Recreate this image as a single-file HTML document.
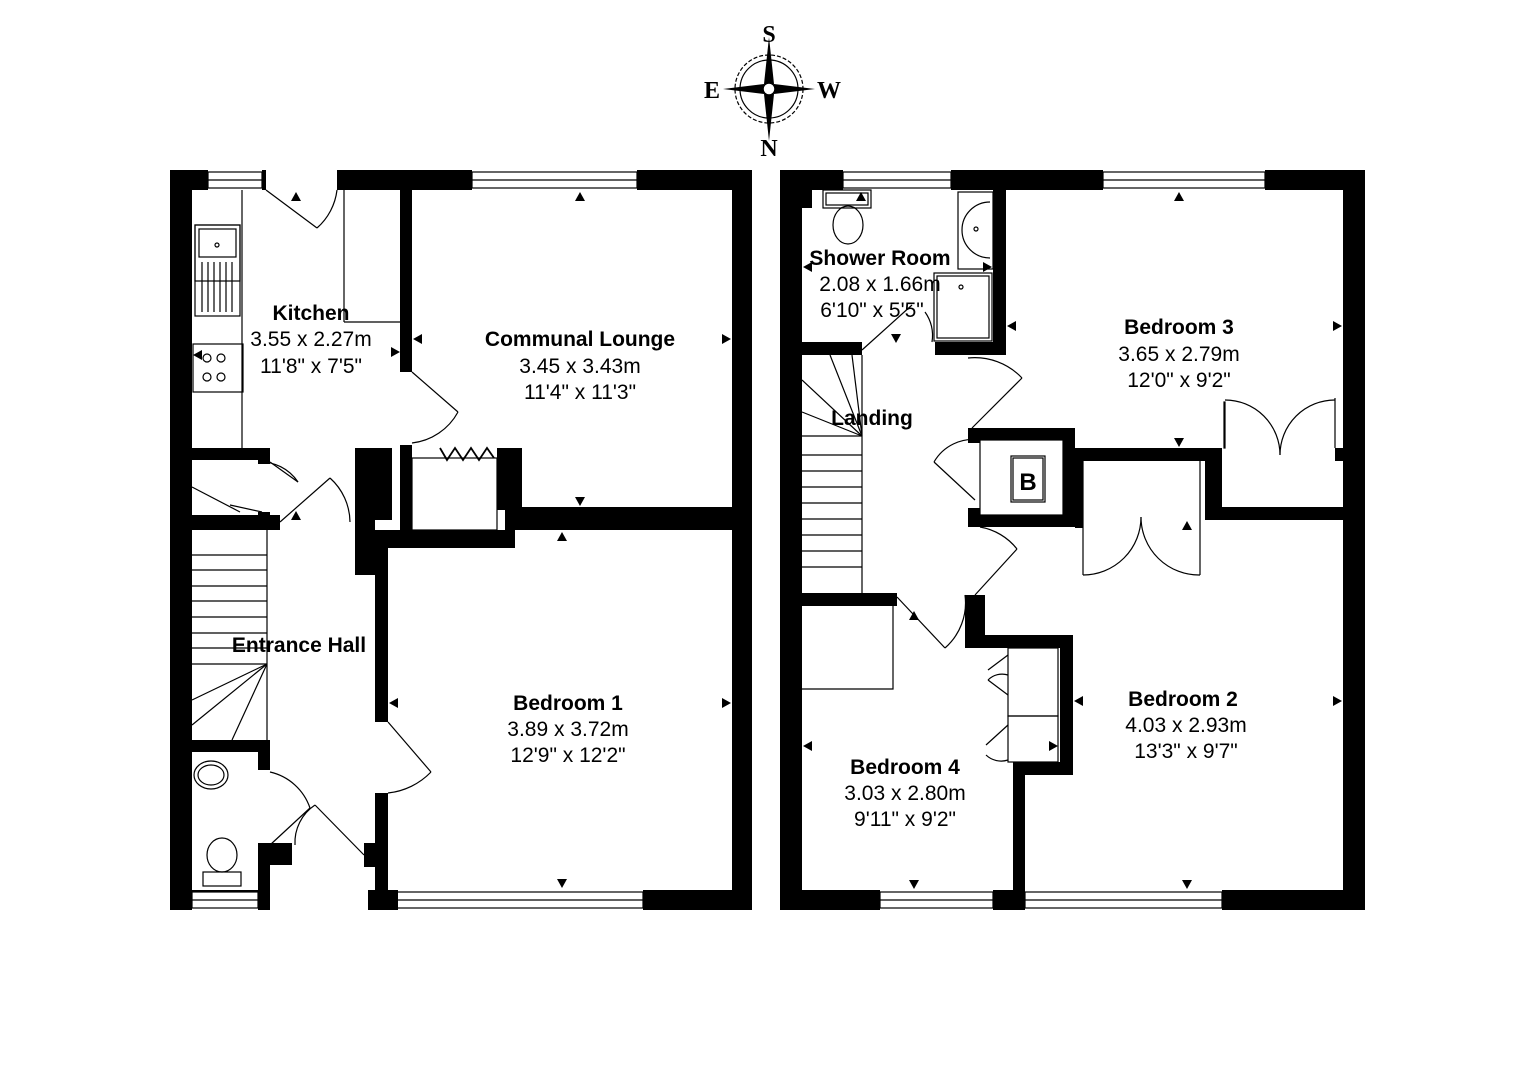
<!DOCTYPE html>
<html><head><meta charset="utf-8"><style>
html,body{margin:0;padding:0;background:#fff}
svg{display:block}
.t{font-family:"Liberation Sans",sans-serif;font-size:21px;fill:#000;text-anchor:middle}
.b{font-weight:bold}
</style></head><body>
<svg width="1534" height="1080" viewBox="0 0 1534 1080" xmlns="http://www.w3.org/2000/svg">
<rect width="1534" height="1080" fill="#fff"/>
<g transform="translate(769,89)">
<circle r="34" fill="none" stroke="#000" stroke-width="1.2" stroke-dasharray="4,2"/>
<circle r="29" fill="none" stroke="#000" stroke-width="1.2"/>
<polygon points="0,-52 5,-5 0,0 -5,-5" fill="#000"/>
<polygon points="0,52 5,5 0,0 -5,5" fill="#000"/>
<polygon points="-46,0 -5,-5 0,0 -5,5" fill="#000"/>
<polygon points="46,0 5,-5 0,0 5,5" fill="#000"/>
<circle r="6" fill="#fff" stroke="#000" stroke-width="1.5"/>
</g>
<text x="769" y="42" font-family="Liberation Serif,serif" font-weight="bold" font-size="24" text-anchor="middle">S</text>
<text x="769" y="156" font-family="Liberation Serif,serif" font-weight="bold" font-size="24" text-anchor="middle">N</text>
<text x="712" y="98" font-family="Liberation Serif,serif" font-weight="bold" font-size="24" text-anchor="middle">E</text>
<text x="829" y="98" font-family="Liberation Serif,serif" font-weight="bold" font-size="24" text-anchor="middle">W</text>

<g fill="#000">
<rect x="170" y="170" width="22" height="740"/>
<rect x="170" y="170" width="38" height="20"/>
<rect x="262" y="170" width="4" height="20"/>
<rect x="337" y="170" width="135" height="20"/>
<rect x="637" y="170" width="115" height="20"/>
<rect x="732" y="170" width="20" height="740"/>
<rect x="258" y="890" width="12" height="20"/>
<rect x="368" y="890" width="30" height="20"/>
<rect x="643" y="890" width="109" height="20"/>
<rect x="192" y="890" width="66" height="2"/>
<rect x="400" y="190" width="12" height="182"/>
<rect x="400" y="445" width="12" height="85"/>
<rect x="497" y="448" width="25" height="62"/>
<rect x="388" y="530" width="127" height="18"/>
<rect x="505" y="507" width="10" height="40"/>
<rect x="515" y="507" width="237" height="23"/>
<rect x="355" y="448" width="37" height="72"/>
<rect x="355" y="520" width="20" height="55"/>
<rect x="375" y="530" width="13" height="192"/>
<rect x="375" y="793" width="13" height="117"/>
<rect x="364" y="843" width="24" height="24"/>
<rect x="192" y="448" width="78" height="12"/>
<rect x="258" y="448" width="12" height="16"/>
<rect x="192" y="515" width="88" height="15"/>
<rect x="258" y="512" width="12" height="6"/>
<rect x="192" y="740" width="78" height="12"/>
<rect x="258" y="740" width="12" height="30"/>
<rect x="258" y="843" width="12" height="67"/>
<rect x="258" y="843" width="34" height="22"/>

<rect x="780" y="170" width="22" height="740"/>
<rect x="780" y="170" width="63" height="20"/>
<rect x="951" y="170" width="152" height="20"/>
<rect x="1265" y="170" width="100" height="20"/>
<rect x="1343" y="170" width="22" height="740"/>
<rect x="780" y="890" width="100" height="20"/>
<rect x="993" y="890" width="32" height="20"/>
<rect x="1222" y="890" width="143" height="20"/>
<rect x="802" y="190" width="10" height="18"/>
<rect x="993" y="190" width="13" height="165"/>
<rect x="935" y="342" width="71" height="13"/>
<rect x="802" y="342" width="60" height="13"/>
<rect x="802" y="593" width="95" height="13"/>
<rect x="968" y="428" width="107" height="12"/>
<rect x="968" y="428" width="12" height="15"/>
<rect x="968" y="508" width="12" height="19"/>
<rect x="968" y="515" width="113" height="12"/>
<rect x="1063" y="428" width="12" height="99"/>
<rect x="1075" y="448" width="147" height="13"/>
<rect x="1075" y="448" width="8" height="80"/>
<rect x="1205" y="448" width="17" height="72"/>
<rect x="1205" y="507" width="138" height="13"/>
<rect x="1335" y="448" width="8" height="13"/>
<rect x="965" y="595" width="20" height="50"/>
<rect x="965" y="635" width="108" height="13"/>
<rect x="1060" y="635" width="13" height="140"/>
<rect x="1020" y="762" width="53" height="13"/>
<rect x="1013" y="762" width="12" height="128"/>
</g>

<g fill="none" stroke="#000" stroke-width="1.2">
<rect x="208" y="172" width="54" height="16"/><line x1="208" y1="180" x2="262" y2="180"/>
<rect x="472" y="172" width="165" height="16"/><line x1="472" y1="180" x2="637" y2="180"/>
<rect x="397" y="892" width="246" height="16"/><line x1="397" y1="900" x2="643" y2="900"/>
<rect x="192" y="892" width="66" height="16"/><line x1="192" y1="900" x2="258" y2="900"/>
<rect x="843" y="172" width="108" height="16"/><line x1="843" y1="180" x2="951" y2="180"/>
<rect x="1103" y="172" width="162" height="16"/><line x1="1103" y1="180" x2="1265" y2="180"/>
<rect x="880" y="892" width="113" height="16"/><line x1="880" y1="900" x2="993" y2="900"/>
<rect x="1025" y="892" width="197" height="16"/><line x1="1025" y1="900" x2="1222" y2="900"/>
<line x1="242" y1="190" x2="242" y2="448"/>
<rect x="195" y="225" width="45" height="56"/>
<rect x="199" y="229" width="37" height="28"/>
<circle cx="217" cy="245" r="2"/>
<line x1="202" y1="262" x2="202" y2="312"/><line x1="208" y1="262" x2="208" y2="312"/><line x1="214" y1="262" x2="214" y2="312"/><line x1="220" y1="262" x2="220" y2="312"/><line x1="226" y1="262" x2="226" y2="312"/><line x1="232" y1="262" x2="232" y2="312"/>
<rect x="195" y="225" width="45" height="91"/>
<rect x="193" y="344" width="50" height="48"/>
<circle cx="207" cy="358" r="4"/><circle cx="221" cy="358" r="4"/><circle cx="207" cy="377" r="4"/><circle cx="221" cy="377" r="4"/>
<line x1="344" y1="190" x2="344" y2="322"/><line x1="344" y1="322" x2="400" y2="322"/>
<line x1="266" y1="190" x2="317" y2="228"/><path d="M317,228 A60,60 0 0 0 337,190"/>
<line x1="412" y1="372" x2="458" y2="412"/><path d="M458,412 A60,60 0 0 1 412,443"/>
<polyline points="440,448 447,460 455,448 463,460 471,448 479,460 487,448 494,458" stroke-width="1.8"/>
<rect x="412" y="458" width="85" height="72"/>
<line x1="270" y1="462" x2="298" y2="482"/><path d="M258,462 A45,45 0 0 1 298,482"/>
<line x1="262" y1="512" x2="230" y2="505"/><line x1="192" y1="487" x2="240" y2="512"/>
<line x1="280" y1="522" x2="330" y2="478"/><path d="M330,478 A60,60 0 0 1 350,522"/>
<line x1="388" y1="722" x2="431" y2="772"/><path d="M431,772 A70,70 0 0 1 388,793"/>
<line x1="315" y1="805" x2="364" y2="855"/><path d="M315,805 A45,45 0 0 0 295,845"/>
<line x1="270" y1="845" x2="310" y2="808"/><path d="M310,808 A55,55 0 0 0 270,772"/>
<line x1="267" y1="530" x2="267" y2="740"/>
<line x1="192" y1="555" x2="267" y2="555"/><line x1="192" y1="570" x2="267" y2="570"/><line x1="192" y1="586" x2="267" y2="586"/><line x1="192" y1="601" x2="267" y2="601"/><line x1="192" y1="617" x2="267" y2="617"/><line x1="192" y1="633" x2="267" y2="633"/><line x1="192" y1="648" x2="267" y2="648"/><line x1="192" y1="664" x2="267" y2="664"/>
<line x1="192" y1="700" x2="267" y2="664"/><line x1="192" y1="725" x2="267" y2="664"/><line x1="232" y1="740" x2="267" y2="664"/>
<ellipse cx="211" cy="775" rx="17" ry="14"/><ellipse cx="211" cy="775" rx="13" ry="10"/>
<ellipse cx="222" cy="855" rx="15" ry="17"/><rect x="203" y="872" width="38" height="14"/>
<rect x="823" y="190" width="48" height="18"/><rect x="826" y="193" width="42" height="12"/>
<ellipse cx="848" cy="225" rx="15" ry="19"/>
<rect x="958" y="192" width="35" height="77"/>
<path d="M990,202 A27,27 0 0 0 990,258"/><circle cx="976" cy="229" r="2"/>
<rect x="934" y="273" width="58" height="68"/><rect x="937" y="276" width="52" height="62"/>
<circle cx="961" cy="287" r="2"/>
<line x1="862" y1="350" x2="912" y2="305"/><path d="M932,342 A40,40 0 0 0 925,312"/>
<line x1="862" y1="355" x2="862" y2="593"/>
<line x1="802" y1="380" x2="862" y2="436"/><line x1="830" y1="355" x2="862" y2="436"/><line x1="852" y1="355" x2="862" y2="436"/><line x1="802" y1="412" x2="862" y2="436"/>
<line x1="802" y1="436" x2="862" y2="436"/><line x1="802" y1="455" x2="862" y2="455"/><line x1="802" y1="471" x2="862" y2="471"/><line x1="802" y1="487" x2="862" y2="487"/><line x1="802" y1="503" x2="862" y2="503"/><line x1="802" y1="519" x2="862" y2="519"/><line x1="802" y1="535" x2="862" y2="535"/><line x1="802" y1="551" x2="862" y2="551"/><line x1="802" y1="567" x2="862" y2="567"/>
<polyline points="802,689 893,689 893,606"/>
<line x1="972" y1="428" x2="1022" y2="378"/><path d="M1022,378 A65,65 0 0 0 968,358"/>
<line x1="934" y1="462" x2="975" y2="500"/><path d="M934,462 A45,45 0 0 1 980,440"/>
<line x1="975" y1="595" x2="1017" y2="549"/><path d="M1017,549 A60,60 0 0 0 980,527"/>
<line x1="897" y1="597" x2="945" y2="648"/><path d="M945,648 A60,60 0 0 0 965,595"/>
<rect x="1224" y="402" width="1" height="46"/><line x1="1335" y1="398" x2="1335" y2="448"/>
<path d="M1225,400 A55,55 0 0 1 1280,455"/><path d="M1335,400 A55,55 0 0 0 1280,455"/>
<line x1="1083" y1="461" x2="1083" y2="575"/><line x1="1200" y1="461" x2="1200" y2="575"/>
<path d="M1083,575 A58,58 0 0 0 1141,517"/><path d="M1200,575 A58,58 0 0 1 1141,517"/>
<rect x="980" y="440" width="83" height="75"/>
<rect x="1013" y="458" width="30" height="42"/><rect x="1011" y="456" width="34" height="46"/>
<rect x="1008" y="648" width="50" height="68"/><rect x="1008" y="716" width="50" height="46"/>
<line x1="1008" y1="655" x2="988" y2="670"/><line x1="988" y1="680" x2="1008" y2="695"/><path d="M988,680 A20,20 0 0 1 1008,675"/>
<line x1="1008" y1="725" x2="986" y2="745"/><path d="M986,755 A22,22 0 0 0 1008,760"/>
</g>

<g fill="#000">
<polygon points="580,192 575,201 585,201"/><polygon points="580,506 575,497 585,497"/>
<polygon points="413,339 422,334 422,344"/><polygon points="731,339 722,334 722,344"/>
<polygon points="400,352 391,347 391,357"/><polygon points="193,355 202,350 202,360"/>
<polygon points="296,192 291,201 301,201"/>
<polygon points="562,532 557,541 567,541"/><polygon points="562,888 557,879 567,879"/>
<polygon points="389,703 398,698 398,708"/><polygon points="731,703 722,698 722,708"/>
<polygon points="296,511 291,520 301,520"/>
<polygon points="1179,192 1174,201 1184,201"/><polygon points="1179,447 1174,438 1184,438"/>
<polygon points="1007,326 1016,321 1016,331"/><polygon points="1342,326 1333,321 1333,331"/>
<polygon points="861,192 856,201 866,201"/><polygon points="896,343 891,334 901,334"/>
<polygon points="803,267 812,262 812,272"/><polygon points="992,267 983,262 983,272"/>
<polygon points="1187,521 1182,530 1192,530"/><polygon points="1187,889 1182,880 1192,880"/>
<polygon points="1074,701 1083,696 1083,706"/><polygon points="1342,701 1333,696 1333,706"/>
<polygon points="803,746 812,741 812,751"/><polygon points="1058,746 1049,741 1049,751"/>
<polygon points="914,889 909,880 919,880"/><polygon points="914,611 909,620 919,620"/>
</g>

<text class="t b" x="311" y="320">Kitchen</text>
<text class="t" x="311" y="346">3.55 x 2.27m</text>
<text class="t" x="311" y="373">11'8" x 7'5"</text>
<text class="t b" x="580" y="346">Communal Lounge</text>
<text class="t" x="580" y="373">3.45 x 3.43m</text>
<text class="t" x="580" y="399">11'4" x 11'3"</text>
<text class="t b" x="299" y="652">Entrance Hall</text>
<text class="t b" x="568" y="710">Bedroom 1</text>
<text class="t" x="568" y="736">3.89 x 3.72m</text>
<text class="t" x="568" y="762">12'9" x 12'2"</text>
<text class="t b" x="880" y="265">Shower Room</text>
<text class="t" x="880" y="291">2.08 x 1.66m</text>
<text class="t" x="872" y="317">6'10" x 5'5"</text>
<text class="t b" x="872" y="425">Landing</text>
<text class="t b" x="1179" y="334">Bedroom 3</text>
<text class="t" x="1179" y="361">3.65 x 2.79m</text>
<text class="t" x="1179" y="387">12'0" x 9'2"</text>
<text class="t b" x="1028" y="490" style="font-size:24px">B</text>
<text class="t b" x="1183" y="706">Bedroom 2</text>
<text class="t" x="1186" y="732">4.03 x 2.93m</text>
<text class="t" x="1186" y="758">13'3" x 9'7"</text>
<text class="t b" x="905" y="774">Bedroom 4</text>
<text class="t" x="905" y="800">3.03 x 2.80m</text>
<text class="t" x="905" y="826">9'11" x 9'2"</text>
</svg>
</body></html>
